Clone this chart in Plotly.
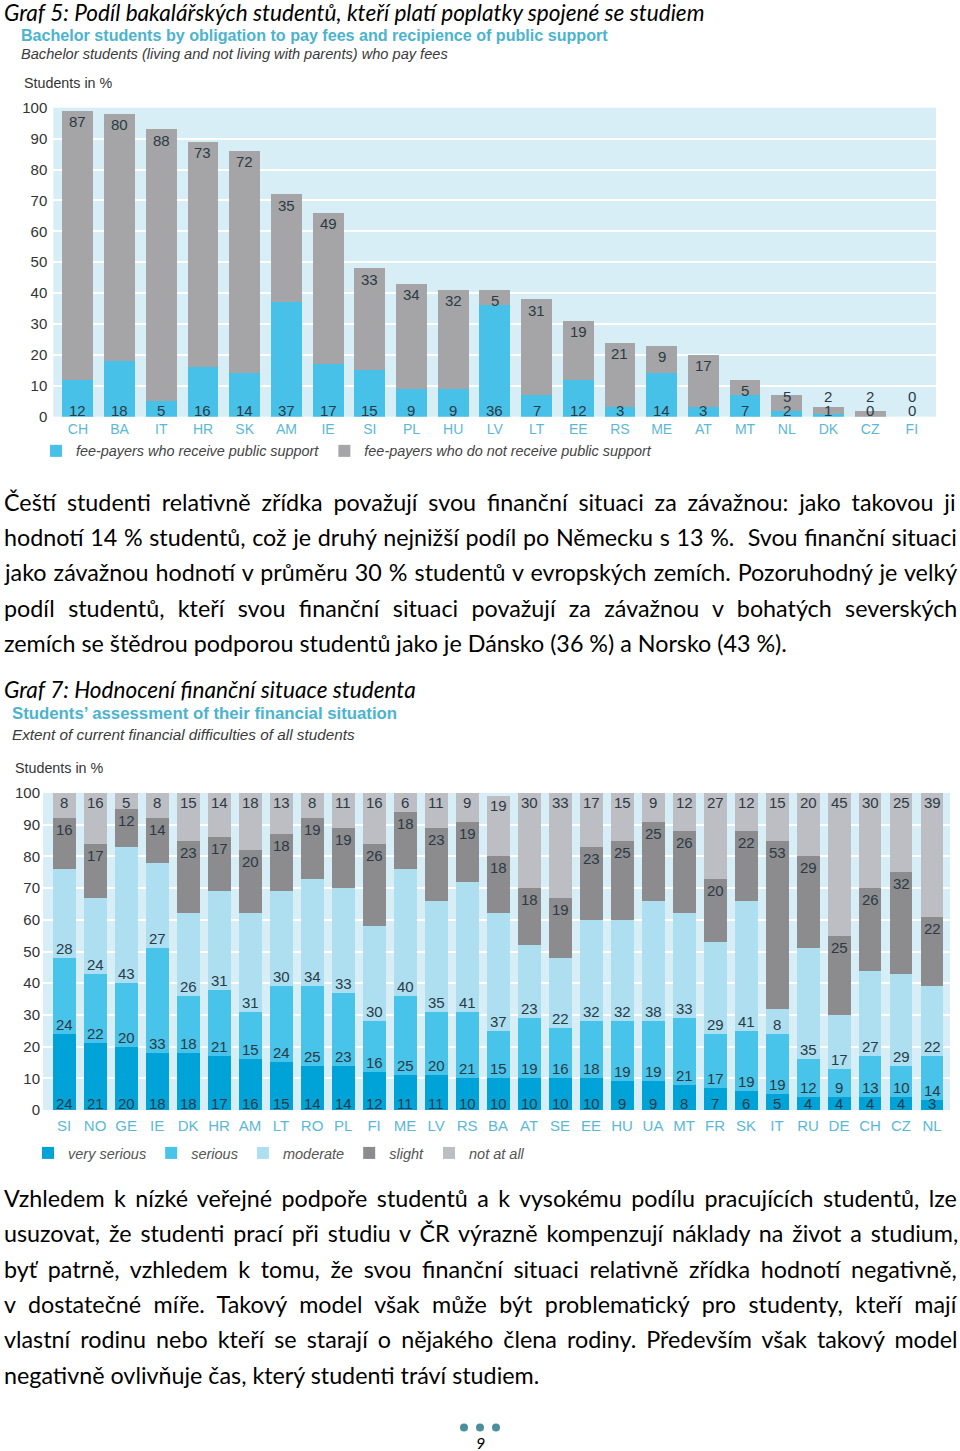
import plotly.graph_objects as go

W, H = 960, 1451


def px_x(x):
    return x / W


def px_y(y):
    return 1 - y / H


# ---------------- Data: Graf 5 ----------------
countries1 = ["CH", "BA", "IT", "HR", "SK", "AM", "IE", "SI", "PL", "HU", "LV",
              "LT", "EE", "RS", "ME", "AT", "MT", "NL", "DK", "CZ", "FI"]
support1 = [12, 18, 5, 16, 14, 37, 17, 15, 9, 9, 36, 7, 12, 3, 14, 3, 7, 2, 1, 0, 0]
nosupport1 = [87, 80, 88, 73, 72, 35, 49, 33, 34, 32, 5, 31, 19, 21, 9, 17, 5, 5, 2, 2, 0]

# ---------------- Data: Graf 7 ----------------
countries2 = ["SI", "NO", "GE", "IE", "DK", "HR", "AM", "LT", "RO", "PL", "FI", "ME",
              "LV", "RS", "BA", "AT", "SE", "EE", "HU", "UA", "MT", "FR", "SK", "IT",
              "RU", "DE", "CH", "CZ", "NL"]
very_serious = [24, 21, 20, 18, 18, 17, 16, 15, 14, 14, 12, 11, 11, 10, 10, 10, 10, 10,
                9, 9, 8, 7, 6, 5, 4, 4, 4, 4, 3]
serious = [24, 22, 20, 33, 18, 21, 15, 24, 25, 23, 16, 25, 20, 21, 15, 19, 16, 18, 19,
           19, 21, 17, 19, 19, 12, 9, 13, 10, 14]
moderate = [28, 24, 43, 27, 26, 31, 31, 30, 34, 33, 30, 40, 35, 41, 37, 23, 22, 32, 32,
            38, 33, 29, 41, 8, 35, 17, 27, 29, 22]
slight = [16, 17, 12, 14, 23, 17, 20, 18, 19, 19, 26, 18, 23, 19, 18, 18, 19, 23, 25,
          25, 26, 20, 22, 53, 29, 25, 26, 32, 22]
not_at_all = [8, 16, 5, 8, 15, 14, 18, 13, 8, 11, 16, 6, 11, 9, 19, 30, 33, 17, 15, 9,
              12, 27, 12, 15, 20, 45, 30, 25, 39]

y_ticks = [0, 10, 20, 30, 40, 50, 60, 70, 80, 90, 100]

# ---------------- Text ----------------
heading5 = "Graf 5: Podíl bakalářských studentů, kteří platí poplatky spojené se studiem"
title5 = "Bachelor students by obligation to pay fees and recipience of public support"
sub5 = "Bachelor students (living and not living with parents) who pay fees"
heading7 = "Graf 7: Hodnocení finanční situace studenta"
title7 = "Students’ assessment of their financial situation"
sub7 = "Extent of current financial difficulties of all students"
para1 = [
    "Čeští studenti relativně zřídka považují svou finanční situaci za závažnou: jako takovou ji",
    "hodnotí 14 % studentů, což je druhý nejnižší podíl po Německu s 13 %.  Svou finanční situaci",
    "jako závažnou hodnotí v průměru 30 % studentů v evropských zemích. Pozoruhodný je velký",
    "podíl studentů, kteří svou finanční situaci považují za závažnou v bohatých severských",
    "zemích se štědrou podporou studentů jako je Dánsko (36 %) a Norsko (43 %).",
]
para2 = [
    "Vzhledem k nízké veřejné podpoře studentů a k vysokému podílu pracujících studentů, lze",
    "usuzovat, že studenti prací při studiu v ČR výrazně kompenzují náklady na život a studium,",
    "byť patrně, vzhledem k tomu, že svou finanční situaci relativně zřídka hodnotí negativně,",
    "v dostatečné míře. Takový model však může být problematický pro studenty, kteří mají",
    "vlastní rodinu nebo kteří se starají o nějakého člena rodiny. Především však takový model",
    "negativně ovlivňuje čas, který studenti tráví studiem.",
]
# extra word spacing (px) that justifies each line like the source document
para1_ws = [4.9, 0.7, 1.1, 7.4, 0]
para2_ws = [3.5, 2.9, 4.7, 6.5, 4.1, 0]

# ---------------- Styles ----------------
BLUE1 = "#47c1e8"
GRAY1 = "#a5a5a7"
C_VS = "#00a3d8"
C_S = "#48c3e9"
C_M = "#aedff1"
C_SL = "#8c8c8f"
C_NA = "#bdbec3"
BG = "#d7eef7"
TEAL = "#4cb3cf"
TICKTEAL = "#5ab8d6"
DARK = "#333333"
LABEL = "#2b3a45"
CHART_FONT = "Liberation Sans, Arial, sans-serif"
DOC_FONT = "Lato, Carlito, Calibri, sans-serif"

fig = go.Figure()

# Graf 5 bars
fig.add_bar(x=countries1, y=support1, name="fee-payers who receive public support",
            marker=dict(color=BLUE1, line=dict(width=0)), width=0.74,
            xaxis="x", yaxis="y", legend="legend", hoverinfo="skip")
fig.add_bar(x=countries1, y=nosupport1, name="fee-payers who do not receive public support",
            marker=dict(color=GRAY1, line=dict(width=0)), width=0.74,
            xaxis="x", yaxis="y", legend="legend", hoverinfo="skip")

# Graf 7 bars
series2 = [("very serious", very_serious, C_VS), ("serious", serious, C_S),
           ("moderate", moderate, C_M), ("slight", slight, C_SL),
           ("not at all", not_at_all, C_NA)]
for name, vals, col in series2:
    fig.add_bar(x=countries2, y=vals, name=name,
                marker=dict(color=col, line=dict(width=0)), width=0.74,
                xaxis="x2", yaxis="y2", legend="legend2", hoverinfo="skip")

annotations = []
lab_font = dict(family=CHART_FONT, size=15, color=LABEL)

# Graf 5 value labels
for c, s, n in zip(countries1, support1, nosupport1):
    annotations.append(dict(x=c, y=0, xref="x", yref="y", text=str(s), showarrow=False,
                            yanchor="bottom", yshift=-4, font=lab_font))
    total = s + n
    annotations.append(dict(x=c, y=max(total - 3.5, 6.5), xref="x", yref="y", text=str(n),
                            showarrow=False, yanchor="middle", font=lab_font))

# Graf 7 value labels
for i, c in enumerate(countries2):
    vs, s, m, sl, na = very_serious[i], serious[i], moderate[i], slight[i], not_at_all[i]
    annotations.append(dict(x=c, y=0, xref="x2", yref="y2", text=str(vs), showarrow=False,
                            yanchor="bottom", yshift=-4, font=lab_font))
    annotations.append(dict(x=c, y=vs, xref="x2", yref="y2", text=str(s), showarrow=False,
                            yanchor="bottom", yshift=-1, font=lab_font))
    annotations.append(dict(x=c, y=vs + s, xref="x2", yref="y2", text=str(m), showarrow=False,
                            yanchor="bottom", yshift=-1, font=lab_font))
    annotations.append(dict(x=c, y=vs + s + m + sl, xref="x2", yref="y2", text=str(sl),
                            showarrow=False, yanchor="top", yshift=-1, font=lab_font))
    annotations.append(dict(x=c, y=vs + s + m + sl + na, xref="x2", yref="y2", text=str(na),
                            showarrow=False, yanchor="top", yshift=1, font=lab_font))


def text_ann(txt, x, y, size, family, color="#000000", style="normal", weight="normal"):
    return dict(text=txt, x=px_x(x), y=px_y(y), xref="paper", yref="paper",
                xanchor="left", yanchor="middle", showarrow=False,
                font=dict(family=family, size=size, color=color, style=style, weight=weight))


def justified(txt, ws):
    if ws:
        return '<span style="word-spacing:%.2fpx">%s</span>' % (ws, txt)
    return txt


annotations.append(text_ann(heading5, 2, 12, 22.6, DOC_FONT, style="italic"))
annotations.append(text_ann(title5, 19, 35, 16.1, CHART_FONT, color=TEAL, weight="bold"))
annotations.append(text_ann(sub5, 19, 54, 14.6, CHART_FONT, color="#3a3a3a", style="italic"))
annotations.append(text_ann("Students in %", 22, 83, 14.3, CHART_FONT, color=DARK))

annotations.append(text_ann(heading7, 2, 689, 22.6, DOC_FONT, style="italic"))
annotations.append(text_ann(title7, 10, 713, 16.8, CHART_FONT, color=TEAL, weight="bold"))
annotations.append(text_ann(sub7, 10, 734, 15.3, CHART_FONT, color="#3a3a3a", style="italic"))
annotations.append(text_ann("Students in %", 13, 768, 14.3, CHART_FONT, color=DARK))

for k, (line, ws) in enumerate(zip(para1, para1_ws)):
    annotations.append(text_ann(justified(line, ws), 2, 502 + k * 35.2, 23.3, DOC_FONT))
for k, (line, ws) in enumerate(zip(para2, para2_ws)):
    annotations.append(text_ann(justified(line, ws), 2, 1198 + k * 35.3, 23.3, DOC_FONT))

annotations.append(dict(text="9", x=px_x(480), y=px_y(1442.5), xref="paper", yref="paper",
                        xanchor="center", yanchor="middle", showarrow=False, borderpad=0,
                        font=dict(family=DOC_FONT, size=16, color="#000", style="italic")))

shapes = []
for cx in (464, 480, 496):
    shapes.append(dict(type="circle", xref="paper", yref="paper",
                       x0=px_x(cx - 4), x1=px_x(cx + 4), y0=px_y(1431.5), y1=px_y(1423.5),
                       fillcolor="#4b8f9b", line=dict(width=0)))

axis_y = dict(range=[0, 100], tickvals=y_ticks, showgrid=True, gridcolor="white",
              gridwidth=2, zeroline=False, showline=False, ticks="",
              tickfont=dict(family=CHART_FONT, size=15, color=DARK), fixedrange=True)

fig.update_layout(
    width=W, height=H, autosize=False,
    margin=dict(l=0, r=0, t=0, b=0, autoexpand=False),
    paper_bgcolor="white", plot_bgcolor=BG,
    barmode="stack", bargap=0.26,
    showlegend=True,
    xaxis=dict(domain=[px_x(53.3), px_x(936)], range=[-0.59, 20.58], anchor="y",
               showgrid=False, zeroline=False, showline=False, ticks="",
               tickfont=dict(family=CHART_FONT, size=14, color=TICKTEAL),
               ticklabelstandoff=2, fixedrange=True),
    yaxis=dict(domain=[px_y(416.7), px_y(107.7)], anchor="x", ticklabelstandoff=5, **axis_y),
    xaxis2=dict(domain=[px_x(43), px_x(950)], range=[-0.68, 28.58], anchor="y2",
                showgrid=False, zeroline=False, showline=False, ticks="",
                tickfont=dict(family=CHART_FONT, size=15, color=TICKTEAL),
                ticklabelstandoff=5, fixedrange=True),
    yaxis2=dict(domain=[px_y(1110), px_y(793)], anchor="x2", ticklabelstandoff=2, **axis_y),
    legend=dict(orientation="h", x=px_x(36), y=px_y(451), xanchor="left", yanchor="middle",
                bgcolor="rgba(0,0,0,0)", traceorder="normal",
                font=dict(family=CHART_FONT, size=14.4, color="#444", style="italic")),
    legend2=dict(orientation="h", x=px_x(28), y=px_y(1153), xanchor="left", yanchor="middle",
                 bgcolor="rgba(0,0,0,0)", traceorder="normal",
                 font=dict(family=CHART_FONT, size=14.5, color="#555", style="italic")),
    annotations=annotations,
    shapes=shapes,
)

# Remove the default page margin so the figure fills the 960x1451 window exactly.
fig.write_html(
    "out.html",
    config={"displayModeBar": False, "staticPlot": True},
    post_script="document.documentElement.style.margin='0';"
                "document.body.style.margin='0';"
                "document.documentElement.style.overflow='hidden';",
)
